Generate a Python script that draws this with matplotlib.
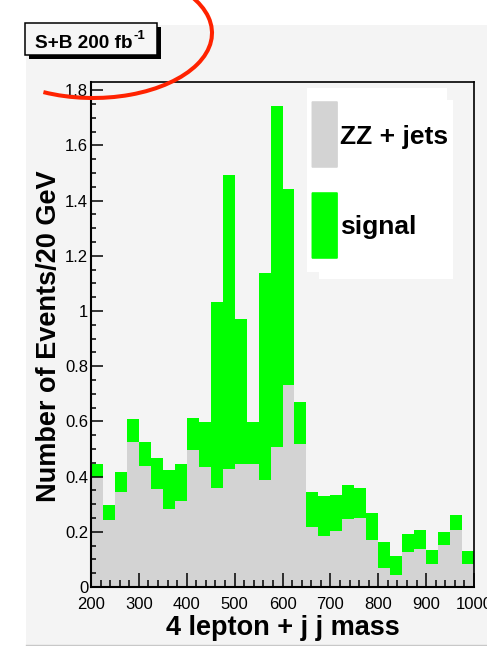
import matplotlib
matplotlib.use('Agg')
import matplotlib.pyplot as plt
import numpy as np
from matplotlib.patches import Rectangle, FancyBboxPatch, Arc
from matplotlib.ticker import MultipleLocator, FuncFormatter

plt.rcParams['font.family'] = ['Liberation Sans', 'DejaVu Sans']

# Данные: бины по 25 ГэВ от 200 до 1000
bin_edges = np.arange(200, 1001, 25)
zz_jets = [0.399, 0.241, 0.343, 0.526, 0.437, 0.354, 0.282, 0.312,
           0.498, 0.435, 0.359, 0.428, 0.444, 0.444, 0.387, 0.506,
           0.731, 0.520, 0.218, 0.186, 0.202, 0.248, 0.250, 0.172,
           0.070, 0.042, 0.127, 0.138, 0.085, 0.151, 0.205, 0.085]
s_plus_b = [0.447, 0.296, 0.415, 0.610, 0.526, 0.469, 0.423, 0.447,
            0.613, 0.598, 1.033, 1.493, 0.971, 0.598, 1.139, 1.744,
            1.444, 0.671, 0.346, 0.329, 0.332, 0.369, 0.358, 0.268,
            0.162, 0.111, 0.193, 0.208, 0.135, 0.198, 0.260, 0.131]
legend_labels = ['ZZ + jets', 'signal']

W, H = 487, 646
def fx(x):
    return x / W
def fy(y):
    return 1 - y / H

fig = plt.figure(figsize=(W / 100, H / 100), dpi=100)

# серый фон канвы
fig.add_artist(Rectangle((fx(26), fy(645)), fx(487 - 26), (645 - 25) / H,
                         transform=fig.transFigure, facecolor='#f4f4f4',
                         edgecolor='none', zorder=-5))
fig.add_artist(plt.Line2D([fx(26), 1], [fy(645), fy(645)], color='#c8c8c8',
                          lw=1, transform=fig.transFigure, zorder=-4))

ax = fig.add_axes([fx(91), fy(587), fx(474 - 91), (587 - 82) / H])
ax.set_facecolor('#f4f4f4')

lefts = bin_edges[:-1]
ax.bar(lefts, s_plus_b, width=25, align='edge', color='#00ff00', linewidth=0)
ax.bar(lefts, zz_jets, width=25, align='edge', color='#d3d3d3', linewidth=0)

ax.set_xlim(200, 1000)
ax.set_ylim(0, 1.83)
ax.xaxis.set_major_locator(MultipleLocator(100))
ax.xaxis.set_minor_locator(MultipleLocator(20))
ax.yaxis.set_major_locator(MultipleLocator(0.2))
ax.yaxis.set_minor_locator(MultipleLocator(0.05))
ax.yaxis.set_major_formatter(FuncFormatter(lambda v, _: f'{v:g}'))

ax.tick_params(which='both', direction='in', top=False, right=False,
               width=1.1, labelsize=12)
ax.tick_params(axis='y', which='major', length=8.5, pad=2)
ax.tick_params(axis='y', which='minor', length=3.8)
ax.tick_params(axis='x', which='major', length=10, pad=7.5)
ax.tick_params(axis='x', which='minor', length=5)
for side in ['left', 'bottom']:
    ax.spines[side].set_linewidth(1.5)
for side in ['top', 'right']:
    ax.spines[side].set_linewidth(1.2)

fig.text(fx(282.5), fy(635), '4 lepton + j j mass', ha='center',
         va='baseline', fontsize=19.5, weight='bold')
fig.text(fx(62.5), fy(336.5), 'Number of Events/20 GeV', rotation=90,
         ha='right', va='center', fontsize=19.5, weight='bold')

# заголовок в рамке с тенью
fig.add_artist(Rectangle((fx(29), fy(59)), fx(132), 32 / H,
                         transform=fig.transFigure, facecolor='black',
                         edgecolor='none', zorder=2))
fig.add_artist(Rectangle((fx(25), fy(55)), fx(132), 32 / H,
                         transform=fig.transFigure, facecolor='#f6f6f6',
                         edgecolor='black', lw=1.1, zorder=3))
fig.text(fx(35), fy(48.3), 'S+B 200 fb', fontsize=13.7, weight='bold',
         va='baseline', zorder=4)
fig.text(fx(133.5), fy(39), '-1', fontsize=9.5, weight='bold',
         va='baseline', zorder=4)

# легенда
fig.add_artist(Rectangle((fx(306.7), fy(271.7)), fx(140), 183.4 / H,
                         transform=fig.transFigure, facecolor='white',
                         edgecolor='none', zorder=2))
fig.add_artist(Rectangle((fx(319.3), fy(279.3)), fx(134), 179.3 / H,
                         transform=fig.transFigure, facecolor='white',
                         edgecolor='none', zorder=2))
for (y0, y1), col, lab, base in [((101.7, 167.3), '#d3d3d3', legend_labels[0], 144),
                                 ((192.7, 258.3), '#00ff00', legend_labels[1], 234)]:
    fig.add_artist(FancyBboxPatch((fx(312.5), fy(y1 - 0.8)), fx(24.4), (y1 - y0 - 1.6) / H,
                                  boxstyle='round,pad=0.002', transform=fig.transFigure,
                                  facecolor=col, edgecolor='none', zorder=3))
    fig.text(fx(340), fy(base), lab, fontsize=19, weight='bold',
             va='baseline', zorder=4)

# красная дуга поверх всего
ov = fig.add_axes([0, 0, 1, 1], zorder=10)
ov.set_xlim(0, W)
ov.set_ylim(H, 0)
ov.axis('off')
ov.patch.set_alpha(0)
ov.add_patch(Arc((93, 33), 238, 130, theta1=-40, theta2=130,
                 color='#ff2200', lw=2.9))

fig.savefig('out.png', dpi=100)
